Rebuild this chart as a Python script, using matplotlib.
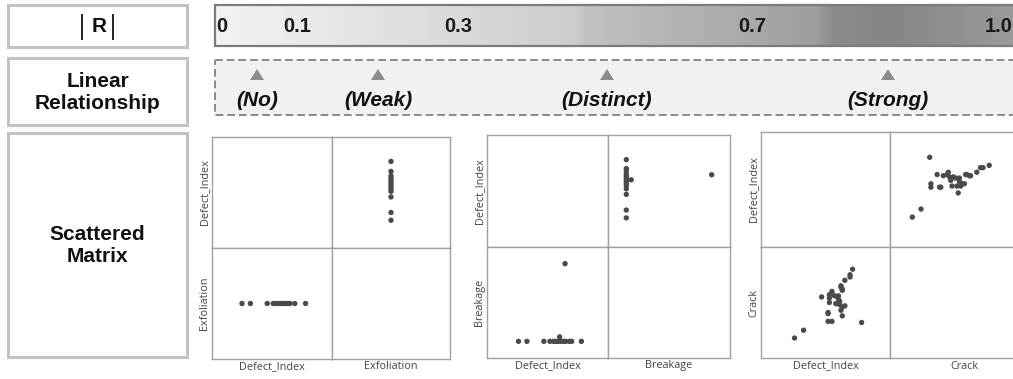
import numpy as np
import matplotlib
matplotlib.use("Agg")
import matplotlib.pyplot as plt
from matplotlib.patches import Rectangle, Polygon
from matplotlib.colors import LinearSegmentedColormap

W, H = 1013, 379

# Row headers and scale annotations
row_titles = ["R", "Linear\nRelationship", "Scattered\nMatrix"]
r_labels = ["0", "0.1", "0.3", "0.7", "1.0"]
relation_labels = ["(No)", "(Weak)", "(Distinct)", "(Strong)"]

# Pair 1: Defect_Index vs Exfoliation (normalised units)
exf_defect = [0.25, 0.32, 0.46, 0.51, 0.53, 0.55, 0.57, 0.59, 0.61, 0.63, 0.65, 0.69, 0.78]
exf_other = [0.50, 0.50, 0.50, 0.50, 0.50, 0.50, 0.50, 0.50, 0.50, 0.50, 0.50, 0.50, 0.50]

# Pair 2: Defect_Index vs Breakage
brk_defect = [0.26, 0.33, 0.47, 0.52, 0.55, 0.57, 0.59, 0.60, 0.61, 0.63, 0.65, 0.68, 0.70, 0.78, 0.645]
brk_other = [0.15, 0.15, 0.15, 0.15, 0.15, 0.15, 0.15, 0.19, 0.15, 0.15, 0.15, 0.15, 0.15, 0.15, 0.85]

# Pair 3: Defect_Index vs Crack
crk_defect = [0.26, 0.33, 0.78, 0.55, 0.52, 0.63, 0.52, 0.52, 0.62, 0.63, 0.65, 0.61, 0.58, 0.53,
              0.61, 0.60, 0.53, 0.47, 0.57, 0.60, 0.53, 0.55, 0.55, 0.63, 0.63, 0.62, 0.62, 0.65,
              0.69, 0.69, 0.71]
crk_other = [0.18, 0.25, 0.32, 0.33, 0.33, 0.38, 0.40, 0.41, 0.43, 0.46, 0.47, 0.48, 0.49, 0.50,
             0.51, 0.53, 0.54, 0.55, 0.56, 0.56, 0.57, 0.58, 0.60, 0.61, 0.62, 0.64, 0.65, 0.70,
             0.73, 0.75, 0.80]

pairs = [
    ("Exfoliation", exf_defect, exf_other),
    ("Breakage", brk_defect, brk_other),
    ("Crack", crk_defect, crk_other),
]

# ---- layout (pixels) ----
left_boxes = [(8, 5, 187, 47), (8, 58, 187, 125), (8, 133, 187, 357)]
bar_box = (215, 5, 1016, 46)
dash_box = (215, 60, 1020, 115)
r_label_x = [222, 297, 458, 752, 1013]
rel_x = [257, 378, 607, 888]
matrix_boxes = [  # x0, y0, xm, ym, x1, y1
    (212, 137, 332, 248, 450, 359),
    (487, 135, 608, 247, 730, 358),
    (761, 132, 890, 247, 1014, 358),
]

BOLD = "Liberation Sans"
SMALL = "Open Sans"

fig = plt.figure(figsize=(W / 100, H / 100), dpi=100)
fig.patch.set_facecolor("white")

ov = fig.add_axes([0, 0, 1, 1])
ov.set_xlim(0, W)
ov.set_ylim(H, 0)
ov.axis("off")

# Left header boxes
for (x0, y0, x1, y1), title in zip(left_boxes, row_titles):
    ov.add_patch(Rectangle((x0, y0), x1 - x0, y1 - y0, facecolor="white",
                           edgecolor="#c3c3c3", lw=2.2))
    ov.text((x0 + x1) / 2 + (1.5 if title == "R" else 0), (y0 + y1) / 2 + 1, title,
            ha="center", va="center", fontsize=15, fontweight="bold", family=BOLD,
            linespacing=1.2, color="#111111")

# thin absolute-value bars around R
for bx in (82, 113):
    ov.plot([bx, bx], [14, 40], color="#222222", lw=1.4, solid_capstyle="butt")

# |R| gradient bar
stops = [(0.00, "#f3f3f3"), (0.11, "#eaeaea"), (0.30, "#dadada"), (0.45, "#cdcdcd"),
         (0.46, "#c2c2c2"), (0.66, "#aaaaaa"), (0.75, "#9e9e9e"), (0.77, "#8c8c8c"),
         (0.84, "#858585"), (1.00, "#9b9b9b")]
cmap = LinearSegmentedColormap.from_list("rgrad", stops)
grad = np.linspace(0, 1, 512)[None, :]
bx0, by0, bx1, by1 = bar_box
ov.imshow(grad, cmap=cmap, aspect="auto", extent=[bx0, bx1, by1, by0], zorder=1)
ov.plot([bx1, bx0, bx0, bx1], [by0, by0, by1, by1], color="#7c7c7c", lw=1.6, zorder=2,
        solid_joinstyle="miter")
for lab, x in zip(r_labels, r_label_x):
    ha = "right" if lab == "1.0" else "center"
    ov.text(x, (by0 + by1) / 2 + 1, lab, ha=ha, va="center", fontsize=14.5,
            fontweight="bold", family=BOLD, color="#1a1a1a", zorder=3)

# Linear relationship strip
dx0, dy0, dx1, dy1 = dash_box
ov.add_patch(Rectangle((dx0, dy0), dx1 - dx0, dy1 - dy0, facecolor="#f1f1f1",
                       edgecolor="#8a8a8a", lw=1.4, linestyle=(0, (4, 2))))
for lab, x in zip(relation_labels, rel_x):
    ov.add_patch(Polygon([(x - 7, 80), (x + 7, 80), (x, 69)], closed=True,
                         facecolor="#8c8c8c", edgecolor="none"))
    ov.text(x, 100, lab, ha="center", va="center", fontsize=15, fontweight="bold",
            style="italic", family=BOLD, color="#111111")


def px_rect(x0, y0, x1, y1):
    return [x0 / W, 1 - y1 / H, (x1 - x0) / W, (y1 - y0) / H]


def style_panel(ax):
    ax.set_xlim(0, 1)
    ax.set_ylim(0, 1)
    ax.set_xticks([])
    ax.set_yticks([])
    ax.set_facecolor("white")
    for s in ax.spines.values():
        s.set_color("#a0a0a0")
        s.set_linewidth(1.0)


lab_kw = dict(fontsize=7.8, family=SMALL, color="#444444")

for (name, dvals, ovals), (x0, y0, xm, ym, x1, y1) in zip(pairs, matrix_boxes):
    tl = fig.add_axes(px_rect(x0, y0, xm, ym))
    tr = fig.add_axes(px_rect(xm, y0, x1, ym))
    bl = fig.add_axes(px_rect(x0, ym, xm, y1))
    br = fig.add_axes(px_rect(xm, ym, x1, y1))
    for a in (tl, tr, bl, br):
        style_panel(a)
    tr.scatter(ovals, dvals, s=15, color="#4a4a4a", edgecolors="none", zorder=3)
    bl.scatter(dvals, ovals, s=15, color="#4a4a4a", edgecolors="none", zorder=3)
    tl.set_ylabel("Defect_Index", labelpad=1.5, **lab_kw)
    bl.set_ylabel(name, labelpad=1.5, **lab_kw)
    bl.set_xlabel("Defect_Index", labelpad=1.5, **lab_kw)
    br.set_xlabel(name, labelpad=1.5, **lab_kw)
    if name == "Crack":
        br.xaxis.set_label_coords(0.6, -0.03, transform=br.transAxes)
        br.spines["right"].set_visible(False)
        tr.spines["right"].set_visible(False)

fig.savefig("out.png", dpi=100, facecolor="white")
